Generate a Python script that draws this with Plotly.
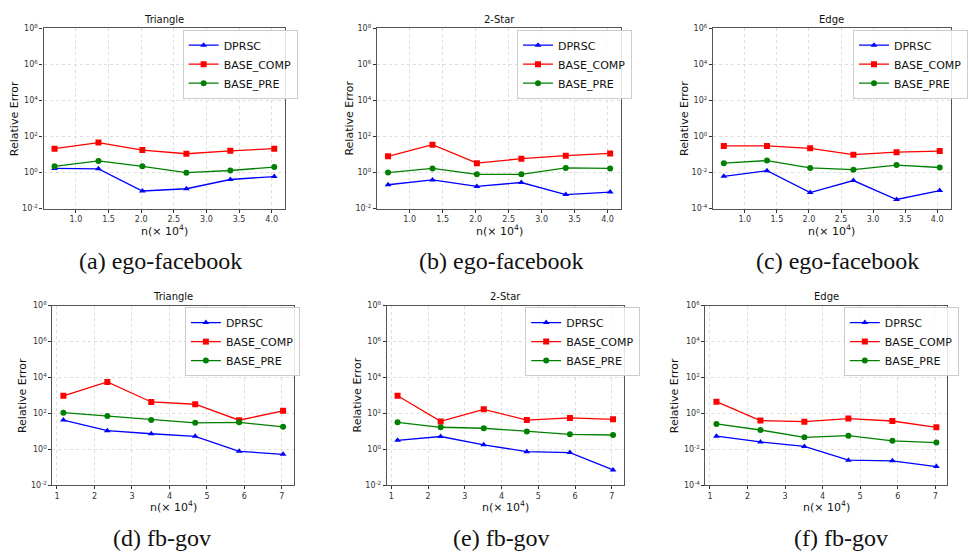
import plotly.graph_objects as go

W, H = 968, 555

# ---------------- data ----------------
x_ego = [0.673, 1.346, 2.019, 2.693, 3.366, 4.039]
x_gov = [1.172, 2.344, 3.515, 4.687, 5.859, 7.031]

series_names = ["DPRSC", "BASE_COMP", "BASE_PRE"]

# (a) ego-facebook, Triangle
a_dprsc = [1.7, 1.6, 0.095, 0.126, 0.41, 0.6]
a_comp = [21, 46, 17.5, 11, 16, 21]
a_pre = [2.2, 4.4, 2.2, 0.98, 1.3, 2.0]
# (b) ego-facebook, 2-Star
b_dprsc = [0.21, 0.39, 0.17, 0.28, 0.06, 0.083]
b_comp = [7.9, 35, 3.3, 5.9, 8.6, 11.5]
b_pre = [1.0, 1.7, 0.8, 0.8, 1.8, 1.7]
# (c) ego-facebook, Edge
c_dprsc = [0.0062, 0.0126, 0.00078, 0.0036, 0.00032, 0.001]
c_comp = [0.30, 0.30, 0.22, 0.098, 0.135, 0.155]
c_pre = [0.033, 0.046, 0.018, 0.0144, 0.026, 0.019]
# (d) fb-gov, Triangle
d_dprsc = [43, 11, 7.4, 5.3, 0.78, 0.53]
d_comp = [960, 5700, 435, 325, 42, 140]
d_pre = [110, 72, 43, 30, 32, 18]
# (e) fb-gov, 2-Star
e_dprsc = [3.2, 5.2, 1.8, 0.74, 0.66, 0.072]
e_comp = [960, 36, 170, 43, 56, 47]
e_pre = [32, 17, 15, 10, 6.9, 6.3]
# (f) fb-gov, Edge
f_dprsc = [0.054, 0.026, 0.0145, 0.0025, 0.0023, 0.0011]
f_comp = [4.5, 0.4, 0.35, 0.52, 0.38, 0.17]
f_pre = [0.26, 0.12, 0.047, 0.058, 0.03, 0.024]

titles = ["Triangle", "2-Star", "Edge", "Triangle", "2-Star", "Edge"]
captions = ["(a) ego-facebook", "(b) ego-facebook", "(c) ego-facebook",
            "(d) fb-gov", "(e) fb-gov", "(f) fb-gov"]
x_ticks_ego = [1.0, 1.5, 2.0, 2.5, 3.0, 3.5, 4.0]
x_ticks_gov = [1, 2, 3, 4, 5, 6, 7]
y_exp_high = [-2, 0, 2, 4, 6, 8]
y_exp_low = [-4, -2, 0, 2, 4, 6]

panels = [
    (x_ego, [a_dprsc, a_comp, a_pre], y_exp_high, x_ticks_ego),
    (x_ego, [b_dprsc, b_comp, b_pre], y_exp_high, x_ticks_ego),
    (x_ego, [c_dprsc, c_comp, c_pre], y_exp_low, x_ticks_ego),
    (x_gov, [d_dprsc, d_comp, d_pre], y_exp_high, x_ticks_gov),
    (x_gov, [e_dprsc, e_comp, e_pre], y_exp_high, x_ticks_gov),
    (x_gov, [f_dprsc, f_comp, f_pre], y_exp_low, x_ticks_gov),
]

# ---------------- layout (pixel boxes) ----------------
boxes = [  # left, right, top, bottom in px
    (44.3, 290.0, 22.7, 206.7),
    (383.3, 631.7, 22.7, 206.7),
    (725.0, 966.5, 22.7, 206.7),
    (53.3, 299.0, 305.7, 489.0),
    (393.3, 634.3, 305.7, 489.0),
    (717.3, 963.3, 305.7, 489.0),
]
ylabel_x = [15, 355, 696, 23, 363, 686]
legend_left = [185.7, 525.7, 867.7, 188, 534, 858]
caption_pos = [(163, 260), (510, 260), (852, 260), (165, 543), (510, 543), (855, 543)]

colors = ["#0000ff", "#ff0000", "#008000"]
symbols = ["triangle-up", "square", "circle"]
FONT = "DejaVu Sans"

fig = go.Figure()
annotations = []
layout = dict(width=W, height=H, margin=dict(l=0, r=0, t=0, b=0),
              paper_bgcolor="white", plot_bgcolor="white", showlegend=True)


def fx(px):
    return px / W


def fy(py):
    return 1 - py / H


for i, (xs, ser, yexp, xt) in enumerate(panels):
    n = i + 1
    sfx = "" if n == 1 else str(n)
    l, r, t, b = boxes[i]
    span = xs[-1] - xs[0]
    xr = [xs[0] - 0.05 * span, xs[-1] + 0.05 * span]
    leg = "legend" if n == 1 else "legend" + str(n)
    for k in range(3):
        fig.add_trace(go.Scatter(
            x=xs, y=ser[k], name=series_names[k], mode="lines+markers",
            line=dict(color=colors[k], width=1.3),
            marker=dict(symbol=symbols[k], color=colors[k], size=6),
            xaxis="x" + sfx, yaxis="y" + sfx, legend=leg))
    axcommon = dict(showline=True, mirror=True, linecolor="#555555", linewidth=1.2,
                    showgrid=True, gridcolor="#dedede", griddash="dot", gridwidth=0.8,
                    ticks="outside", ticklen=3, tickcolor="#333", zeroline=False,
                    tickfont=dict(family=FONT, size=8, color="#333"))
    layout["xaxis" + sfx] = dict(axcommon, domain=[fx(l), fx(r)], anchor="y" + sfx,
                                 range=xr, tickvals=xt,
                                 ticktext=[("%.1f" % v) if isinstance(v, float) else str(v) for v in xt])
    layout["yaxis" + sfx] = dict(axcommon, domain=[fy(b), fy(t)], anchor="x" + sfx,
                                 type="log", range=[yexp[0], yexp[-1]],
                                 tickvals=[10 ** e for e in yexp],
                                 ticktext=["10<sup>%d</sup>" % e for e in yexp])
    layout[leg] = dict(x=fx(legend_left[i]), y=fy(t + 1.5), xanchor="left", yanchor="top",
                       bgcolor="rgba(255,255,255,0.85)", bordercolor="#cccccc", borderwidth=1,
                       font=dict(family=FONT, size=11, color="#111"),
                       itemwidth=30, tracegroupgap=0)
    cx = (l + r) / 2
    annotations.append(dict(text=titles[i], x=fx(cx), y=fy(t - 9), xref="paper", yref="paper",
                            showarrow=False, font=dict(family=FONT, size=10, color="#111"),
                            xanchor="center", yanchor="middle"))
    annotations.append(dict(text="n(\u00d7 10<sup>4</sup>)", x=fx(cx), y=fy(b + 22), xref="paper",
                            yref="paper", showarrow=False,
                            font=dict(family=FONT, size=11, color="#111"),
                            xanchor="center", yanchor="middle"))
    annotations.append(dict(text="Relative Error", x=fx(ylabel_x[i]), y=fy((t + b) / 2),
                            xref="paper", yref="paper", showarrow=False, textangle=-90,
                            font=dict(family=FONT, size=11, color="#111"),
                            xanchor="center", yanchor="middle"))
    capx, capy = caption_pos[i]
    annotations.append(dict(text=captions[i], x=fx(capx), y=fy(capy), xref="paper", yref="paper",
                            showarrow=False, font=dict(family="Liberation Serif", size=24, color="#111"),
                            xanchor="center", yanchor="middle"))

layout["annotations"] = annotations
fig.update_layout(**layout)
fig.write_html("out.html", config={"displayModeBar": False},
               post_script="document.body.style.margin='0';document.body.style.overflow='hidden';")
